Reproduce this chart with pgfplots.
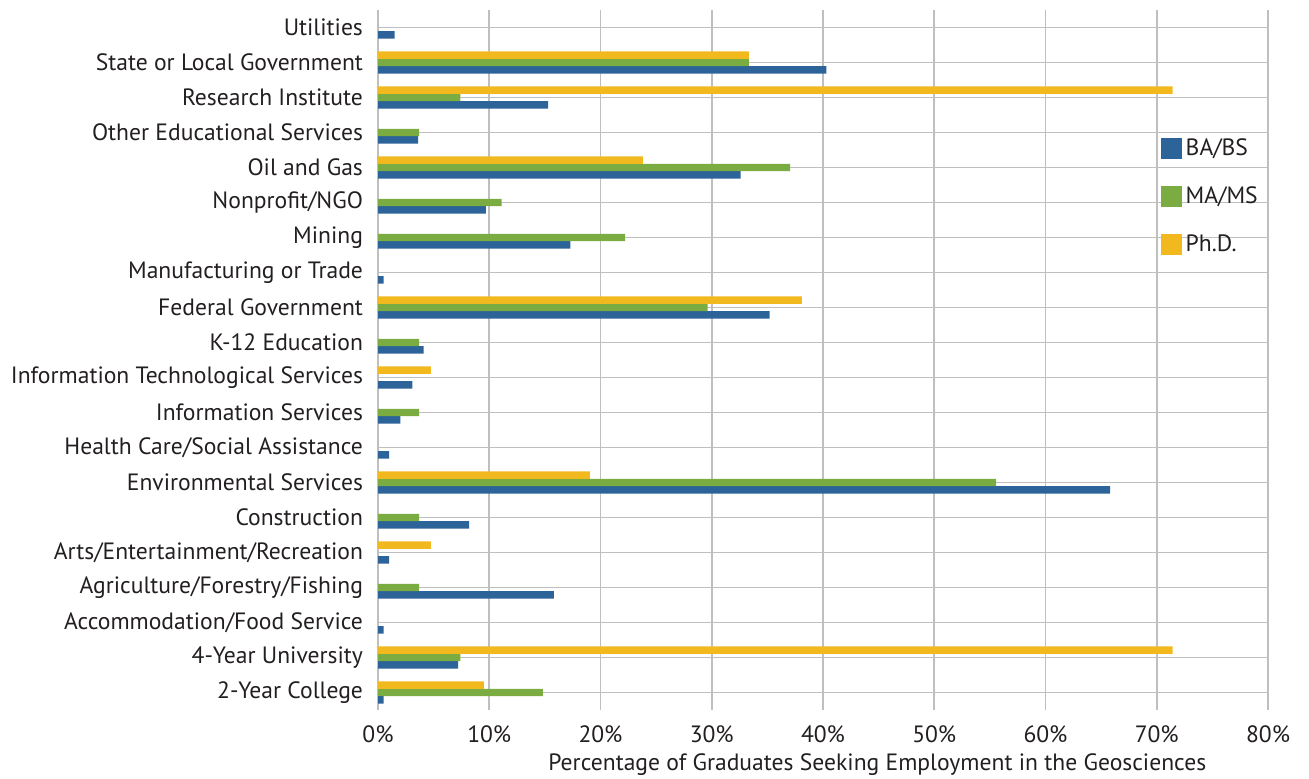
\documentclass[border=0pt]{standalone}
\usepackage{fontspec}
\setmainfont{PT Sans}
\usepackage{pgfplots}
\pgfplotsset{compat=1.18}
\definecolor{ba}{HTML}{2C6399}
\definecolor{ma}{HTML}{7AAC42}
\definecolor{phd}{HTML}{F2B91E}
\definecolor{txt}{HTML}{231F20}
\definecolor{grid}{HTML}{BFBFBF}
\begin{document}
\begin{tikzpicture}
\useasboundingbox (0,0) rectangle (654.5pt,389.5pt);
\begin{axis}[
  at={(189pt,34.5pt)}, anchor=south west,
  scale only axis, width=445pt, height=350pt,
  xbar=0pt, bar width=0.21,
  xmin=0, xmax=80, ymin=-0.5, ymax=19.5,
  xtick={0,10,...,80},
  xticklabel={\pgfmathprintnumber{\tick}\%},
  /pgf/number format/assume math mode=true,
  ytick={0,...,19},
  yticklabels={2-Year College,4-Year University,Accommodation/Food Service,Agriculture/Forestry/Fishing,Arts/Entertainment/Recreation,Construction,Environmental Services,Health Care/Social Assistance,Information Services,Information Technological Services,K-12 Education,Federal Government,Manufacturing or Trade,Mining,Nonprofit/NGO,Oil and Gas,Other Educational Services,Research Institute,State or Local Government,Utilities},
  axis line style={draw=none},
  major tick length=0pt,
  xmajorgrids, grid style={grid, line width=0.8pt},
  tick label style={font=\fontsize{11.8}{13}\selectfont, text=txt},
  yticklabel style={xshift=-4pt},
  xticklabel style={yshift=-4.5pt},
  xlabel={Percentage of Graduates Seeking Employment in the Geosciences},
  xlabel style={font=\fontsize{11.8}{13}\selectfont, text=txt, at={(axis description cs:0.561,0)}, anchor=north, yshift=-18.5pt},
  legend style={at={(axis description cs:0.879,0.822)}, anchor=north west, draw=none, fill=none, font=\fontsize{11.8}{13}\selectfont, text=txt, row sep=10pt, inner sep=0pt},
  legend cell align=left,
  legend image code/.code={\fill[#1] (0pt,-5.25pt) rectangle (10.5pt,5.25pt);},
]
\addplot[fill=ba, draw=none] coordinates {
(0.5,0) (7.2,1) (0.5,2) (15.8,3) (1.0,4) (8.2,5) (65.8,6) (1.0,7) (2.0,8) (3.1,9) (4.1,10) (35.2,11) (0.5,12) (17.3,13) (9.7,14) (32.6,15) (3.6,16) (15.3,17) (40.3,18) (1.5,19)};
\addlegendentry{BA/BS}
\addplot[fill=ma, draw=none] coordinates {
(14.81,0) (7.41,1) (3.70,3) (3.70,5) (55.56,6) (3.70,8) (3.70,10) (29.63,11) (22.22,13) (11.11,14) (37.04,15) (3.70,16) (7.41,17) (33.33,18)};
\addlegendentry{MA/MS}
\addplot[fill=phd, draw=none] coordinates {
(9.52,0) (71.43,1) (4.76,4) (19.05,6) (4.76,9) (38.10,11) (23.81,15) (71.43,17) (33.33,18)};
\addlegendentry{Ph.D.}
\end{axis}
\end{tikzpicture}
\end{document}
